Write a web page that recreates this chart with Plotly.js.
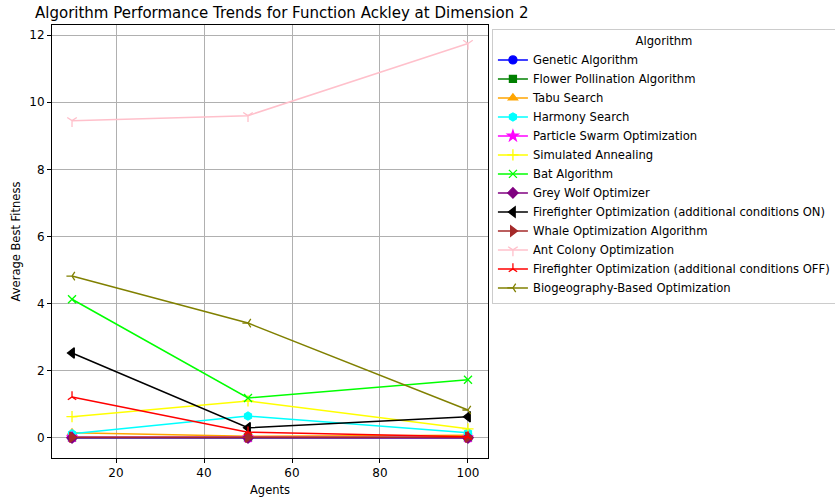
<!DOCTYPE html>
<html>
<head>
<meta charset="utf-8">
<script src="https://cdn.plot.ly/plotly-3.0.1.min.js"></script>
<style>html,body{margin:0;padding:0;background:#fff;}#chart{width:835px;height:497px;}</style>
</head>
<body>
<div id="chart"></div>
<script>
const agents = [10, 50, 100];
const algorithms = [
  "Genetic Algorithm",
  "Flower Pollination Algorithm",
  "Tabu Search",
  "Harmony Search",
  "Particle Swarm Optimization",
  "Simulated Annealing",
  "Bat Algorithm",
  "Grey Wolf Optimizer",
  "Firefighter Optimization (additional conditions ON)",
  "Whale Optimization Algorithm",
  "Ant Colony Optimization",
  "Firefighter Optimization (additional conditions OFF)",
  "Biogeography-Based Optimization"
];
const geneticAlgorithm = [0.0, 0.0, 0.0];
const flowerPollination = [0.01, 0.01, 0.01];
const tabuSearch = [0.15, 0.05, 0.08];
const harmonySearch = [0.12, 0.65, 0.15];
const particleSwarm = [0.02, 0.01, 0.01];
const simulatedAnnealing = [0.63, 1.10, 0.27];
const batAlgorithm = [4.13, 1.19, 1.73];
const greyWolf = [0.0, 0.0, 0.0];
const firefighterOn = [2.53, 0.30, 0.63];
const whaleOptimization = [0.02, 0.02, 0.02];
const antColony = [9.45, 9.60, 11.75];
const firefighterOff = [1.22, 0.17, 0.03];
const biogeography = [4.82, 3.42, 0.83];

const seriesValues = [geneticAlgorithm, flowerPollination, tabuSearch, harmonySearch, particleSwarm,
  simulatedAnnealing, batAlgorithm, greyWolf, firefighterOn, whaleOptimization, antColony,
  firefighterOff, biogeography];
const colors = ["#0000ff", "#008000", "#ffa500", "#00ffff", "#ff00ff", "#ffff00", "#00ff00",
  "#800080", "#000000", "#a52a2a", "#ffc0cb", "#ff0000", "#808000"];
const symbols = ["circle", "square", "triangle-up", "hexagon", "star", "cross-thin-open", "x-thin-open",
  "diamond", "triangle-left", "triangle-right", "y-down-open", "y-up-open", "y-left-open"];
const sizes = [8, 7, 8, 8, 8, 8, 8, 8, 9, 9, 8, 7, 7];

const traces = algorithms.map((name, i) => ({
  x: agents,
  y: seriesValues[i],
  name: name,
  type: "scatter",
  mode: "lines+markers",
  line: {color: colors[i], width: 1.5},
  marker: {color: colors[i], symbol: symbols[i], size: sizes[i], line: {color: colors[i], width: 1.3}}
}));

const layout = {
  width: 835, height: 497,
  margin: {l: 52, r: 347, t: 25, b: 39, autoexpand: false},
  paper_bgcolor: "#ffffff",
  plot_bgcolor: "#ffffff",
  font: {family: "DejaVu Sans", size: 12, color: "#000"},
  title: {text: "Algorithm Performance Trends for Function Ackley at Dimension 2",
    x: 0, xref: "paper", xanchor: "left", y: 0.975, yanchor: "middle",
    font: {size: 15, family: "DejaVu Sans", color: "#000"}, pad: {l: -17}},
  xaxis: {
    range: [5.45, 104.55], tickvals: [20, 40, 60, 80, 100],
    showgrid: true, gridcolor: "#b0b0b0", gridwidth: 1, zeroline: false,
    showline: true, linecolor: "#000", linewidth: 1, mirror: true,
    ticks: "outside", ticklen: 4, tickcolor: "#000", automargin: false,
    title: {text: "Agents", font: {size: 11.5}, standoff: 6}
  },
  yaxis: {
    range: [-0.6, 12.3], tickvals: [0, 2, 4, 6, 8, 10, 12],
    showgrid: true, gridcolor: "#b0b0b0", gridwidth: 1, zeroline: false,
    showline: true, linecolor: "#000", linewidth: 1, mirror: true,
    ticks: "outside", ticklen: 4, tickcolor: "#000", automargin: false,
    title: {text: "Average Best Fitness", font: {size: 11.5}, standoff: 6}
  },
  legend: {
    x: 1.009, xanchor: "left", y: 0.99, yanchor: "top",
    bgcolor: "#ffffff", bordercolor: "#cccccc", borderwidth: 1,
    font: {size: 11.6}, tracegroupgap: 0, itemwidth: 30,
    title: {text: "Algorithm", side: "top center", font: {size: 11.6}}
  },
  showlegend: true
};

Plotly.newPlot("chart", traces, layout, {displayModeBar: false, staticPlot: true});
</script>
</body>
</html>
